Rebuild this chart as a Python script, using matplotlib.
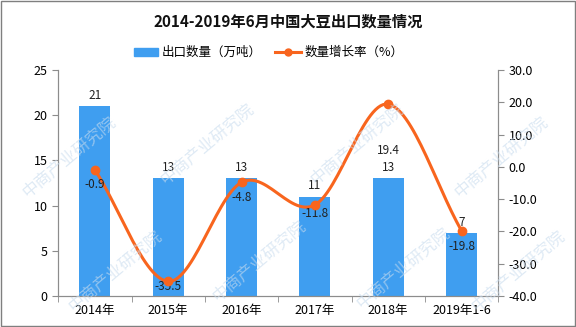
import numpy as np
import matplotlib.pyplot as plt
from matplotlib.patches import Rectangle

plt.rcParams['font.family'] = ['Noto Sans CJK SC', 'DejaVu Sans']

years = ['2014年', '2015年', '2016年', '2017年', '2018年', '2019年1-6']
export_qty = [21, 13, 13, 11, 13, 7]            # 万吨
growth = [-0.9, -35.5, -4.8, -11.8, 19.4, -19.8]  # %

bar_color = '#3f9ef0'
line_color = '#f8651e'
axis_gray = '#8c8c8c'


def smooth_curve(xs, ys, n=30):
    # Catmull-Rom 样条, 用于画平滑折线
    xs = np.asarray(xs, float)
    ys = np.asarray(ys, float)
    px = np.concatenate([[2 * xs[0] - xs[1]], xs, [2 * xs[-1] - xs[-2]]])
    py = np.concatenate([[2 * ys[0] - ys[1]], ys, [2 * ys[-1] - ys[-2]]])
    out_x, out_y = [], []
    t = np.linspace(0, 1, n)
    for i in range(1, len(px) - 2):
        for p, out in ((px, out_x), (py, out_y)):
            p0, p1, p2, p3 = p[i - 1], p[i], p[i + 1], p[i + 2]
            seg = 0.5 * ((2 * p1) + (-p0 + p2) * t +
                         (2 * p0 - 5 * p1 + 4 * p2 - p3) * t ** 2 +
                         (-p0 + 3 * p1 - 3 * p2 + p3) * t ** 3)
            out.extend(seg)
    return np.array(out_x), np.array(out_y)


fig = plt.figure(figsize=(5.76, 3.27), dpi=100)
ax = fig.add_axes([0.101, 0.095, 0.764, 0.691])
ax2 = ax.twinx()

x = np.arange(len(years))

# 水印
for wx, wy in [(0.12, 0.52), (0.36, 0.56), (0.62, 0.56), (0.87, 0.52),
               (0.20, 0.17), (0.45, 0.20), (0.70, 0.18), (0.90, 0.17)]:
    fig.text(wx, wy, '中商产业研究院', fontsize=12, color='#c9dcee', alpha=0.6,
             rotation=40, ha='center', va='center', zorder=0.5)

bars = ax.bar(x, export_qty, width=0.42, color=bar_color, zorder=2)
for xi, v in zip(x, export_qty):
    ax.annotate(f'{v}', (xi, v), xytext=(0, 3), textcoords='offset points',
                ha='center', va='bottom', fontsize=8.5, color='#222222')

sx, sy = smooth_curve(x, growth)
ax2.plot(sx, sy, color=line_color, lw=2.2, zorder=3)
ax2.plot(x, growth, 'o', color=line_color, ms=6, zorder=4)

label_offsets = [-11, -4, -11, -6, -33, -11]
for xi, v, dy in zip(x, growth, label_offsets):
    ax2.annotate(f'{v}', (xi, v), xytext=(0, dy), textcoords='offset points',
                 ha='center', va='center', fontsize=8.5, color='#222222')

ax.set_xlim(-0.5, len(years) - 0.5)
ax.set_ylim(0, 25)
ax.set_yticks(range(0, 26, 5))
ax2.set_ylim(-40, 30)
ax2.set_yticks(range(-40, 31, 10))
ax2.set_yticklabels([f'{t:.1f}' for t in range(-40, 31, 10)])

ax.set_xticks(x)
ax.set_xticklabels(years)
ax.set_xticks(np.arange(-0.5, len(years), 1), minor=True)
ax.tick_params(axis='x', which='major', length=0, pad=6, labelsize=9)
ax.tick_params(axis='x', which='minor', length=4, color=axis_gray)
ax.tick_params(axis='y', length=4, color=axis_gray, labelsize=9)
ax2.tick_params(axis='y', length=4, color=axis_gray, labelsize=9)

for a in (ax, ax2):
    a.spines['top'].set_visible(False)
    for s in ('left', 'right', 'bottom'):
        a.spines[s].set_color(axis_gray)
    a.patch.set_visible(False)

fig.text(0.5, 0.933, '2014-2019年6月中国大豆出口数量情况', ha='center', va='center',
         fontsize=11, fontweight='bold', color='#111111')

# 图例
fig.patches.append(Rectangle((0.232, 0.830), 0.042, 0.022, transform=fig.transFigure,
                             color=bar_color))
fig.text(0.281, 0.841, '出口数量（万吨）', ha='left', va='center', fontsize=9)
fig.lines.append(plt.Line2D([0.478, 0.522], [0.841, 0.841], transform=fig.transFigure,
                            color=line_color, lw=2.2))
fig.lines.append(plt.Line2D([0.50], [0.841], transform=fig.transFigure, marker='o',
                            ms=5, color=line_color))
fig.text(0.528, 0.841, '数量增长率（%）', ha='left', va='center', fontsize=9)

fig.patches.append(Rectangle((0.001, 0.002), 0.997, 0.996, transform=fig.transFigure,
                             fill=False, edgecolor='#7f7f7f', lw=1))

fig.savefig('out.png', dpi=100)
